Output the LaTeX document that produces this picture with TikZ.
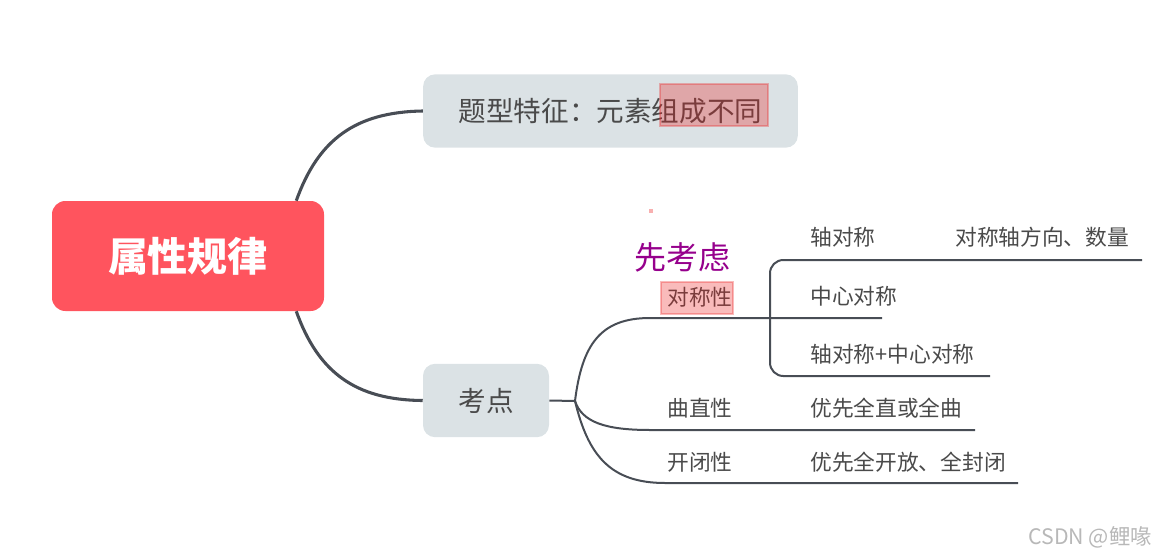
\documentclass[tikz,border=0pt]{standalone}
\usepackage{fontspec}
\setmainfont{Noto Sans CJK SC}
\usetikzlibrary{positioning}
\definecolor{rootRed}{RGB}{255,84,94}
\definecolor{topicGrey}{RGB}{219,226,229}
\definecolor{inkGrey}{RGB}{74,74,74}
\definecolor{lineDark}{RGB}{72,77,85}
\definecolor{hiRed}{RGB}{235,30,30}
\definecolor{kaoPurple}{RGB}{150,0,140}

\begin{document}
\begin{tikzpicture}[x=0.75pt,y=-0.75pt,
  rootbox/.style={fill=rootRed,rounded corners=10pt,minimum width=204pt,minimum height=82.5pt,text=white,font=\fontsize{30}{30}\selectfont\bfseries},
  topicbox/.style={fill=topicGrey,rounded corners=9pt,minimum height=55pt,text=inkGrey,font=\fontsize{20.7}{21}\selectfont},
  leaf/.style={anchor=west,inner sep=0pt,text=inkGrey,font=\fontsize{16.3}{17}\selectfont},
  mainline/.style={draw=lineDark,line width=2.3pt},
  subline/.style={draw=lineDark,line width=1.5pt},
  hilite/.style={fill=hiRed,fill opacity=0.3,draw=hiRed,draw opacity=0.3,line width=1pt}]
\path[use as bounding box] (0,0) rectangle (1158,557);

% main topics
\node[rootbox] (root) at (188,256) {属性规律};
\node[topicbox,minimum width=281pt] (tezheng) at (610.5,111) {题型特征：元素组成不同};
\node[topicbox,minimum width=94.5pt] (kaodian) at (486,400.5) {考点};

\draw[mainline] ([xshift=-21pt]root.north east) .. controls (318,140) and (355,112) .. (tezheng.west);
\draw[mainline] ([xshift=-21pt]root.south east) .. controls (318,372) and (355,400) .. (kaodian.west);

% branch labels
\node[leaf] (duichen) at (667,297) {对称性};
\node[leaf,text=kaoPurple,font=\fontsize{24}{24}\selectfont] (xiankaolv) at (634,257) {先考虑};
\node[leaf] (zhou) at (810,237) {轴对称};
\node[leaf] (zhoudesc) at (955,237) {对称轴方向、数量};
\node[leaf] (zhongxin) at (810,296) {中心对称};
\node[leaf] (zhouzhong) at (810,354) {轴对称+中心对称};
\node[leaf] (quzhi) at (667,408) {曲直性};
\node[leaf] (quzhidesc) at (810,408) {优先全直或全曲};
\node[leaf] (kaibi) at (667,462) {开闭性};
\node[leaf] (kaibidesc) at (810,462) {优先全开放、全封闭};

\coordinate (fork) at (575,401);
\coordinate (zhongxinEnd) at (882,318);
\coordinate (zhouEnd) at (1142,260);
\coordinate (zhouzhongEnd) at (990,376);
\coordinate (quzhiEnd) at (975,430);
\coordinate (kaibiEnd) at (1018,483);

\draw[subline] (kaodian.east) -- (fork);
\draw[subline] (fork) .. controls (582,345) and (600,318) .. (650,318) -- (zhongxinEnd);
\draw[subline,rounded corners=10pt] (zhouEnd) -| (770,318) |- (zhouzhongEnd);
\draw[subline] (fork) .. controls (582,422) and (605,430) .. (650,430) -- (quzhiEnd);
\draw[subline] (fork) .. controls (588,455) and (610,483) .. (665,483) -- (kaibiEnd);

% highlights
\path[hilite] (660,84) rectangle (768,126);
\path[hilite] (661,282) rectangle (733,314);
\fill[hiRed,opacity=0.35] (649,209) rectangle (653,213);

\node[anchor=east,inner sep=0pt,text=black!28,font=\fontsize{16}{16}\selectfont] (csdn) at (1152,537) {CSDN @鲤喙};
\end{tikzpicture}
\end{document}
